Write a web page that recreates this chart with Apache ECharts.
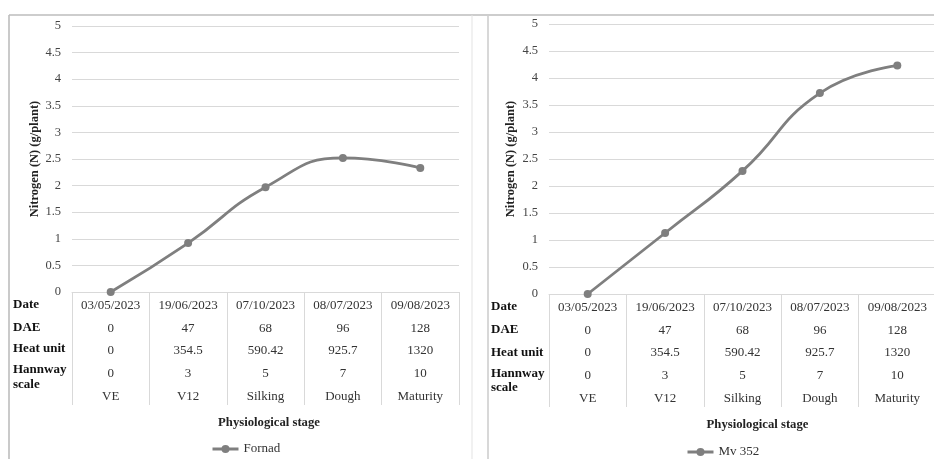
<!DOCTYPE html>
<html>
<head>
<meta charset="utf-8">
<script src="https://cdn.jsdelivr.net/npm/echarts@6/dist/echarts.min.js"></script>
<style>
html,body{margin:0;padding:0;background:#fff;}
#c{width:934px;height:459px;}
</style>
</head>
<body>
<div id="c"></div>
<script>
// ---- data ----
var stages = ['VE', 'V12', 'Silking', 'Dough', 'Maturity'];
var dates = ['03/05/2023', '19/06/2023', '07/10/2023', '08/07/2023', '09/08/2023'];
var dae = ['0', '47', '68', '96', '128'];
var heatUnit = ['0', '354.5', '590.42', '925.7', '1320'];
var hannway = ['0', '3', '5', '7', '10'];
var fornad = [0, 0.92, 1.97, 2.52, 2.33];
var mv352 = [0, 1.13, 2.28, 3.72, 4.23];
var yTicks = [0, 0.5, 1, 1.5, 2, 2.5, 3, 3.5, 4, 4.5, 5];
var rowLabels = ['Date', 'DAE', 'Heat unit', 'Hannway', 'scale'];

var FONT = '"Liberation Serif", "Times New Roman", serif';
var GRID_COL = '#d9d9d9';
var LINE_COL = '#7f7f7f';

var chart = echarts.init(document.getElementById('c'), null, {renderer: 'canvas'});

function xAxisFor(gridIndex, namePadLeft) {
  return {
    type: 'category',
    gridIndex: gridIndex,
    data: stages,
    boundaryGap: true,
    axisLine: {show: true, lineStyle: {color: GRID_COL, width: 1}},
    axisTick: {show: true, length: 113, lineStyle: {color: GRID_COL, width: 1}},
    axisLabel: {
      interval: 0,
      margin: 2,
      fontFamily: FONT,
      fontSize: 13,
      color: '#333',
      lineHeight: 22.75,
      formatter: function (v, i) {
        return [dates[i], dae[i], heatUnit[i], hannway[i], v].join('\n');
      }
    },
    name: 'Physiological stage',
    nameLocation: 'middle',
    nameGap: 124,
    nameMoveOverlap: false,
    nameTextStyle: {fontFamily: FONT, fontSize: 12.7, fontWeight: 'bold', color: '#222', padding: [0, 0, 0, namePadLeft]}
  };
}

function yAxisFor(gridIndex, gap) {
  return {
    type: 'value',
    gridIndex: gridIndex,
    min: 0, max: 5, interval: 0.5,
    axisLine: {show: false},
    axisTick: {show: false},
    splitLine: {show: true, lineStyle: {color: GRID_COL, width: 1}},
    axisLabel: {
      margin: 11,
      fontFamily: FONT, fontSize: 12.5, color: '#444',
      formatter: function (v) { return String(yTicks[Math.round(v / 0.5)]); }
    },
    name: 'Nitrogen (N) (g/plant)',
    nameLocation: 'middle',
    nameGap: gap,
    nameRotate: 90,
    nameMoveOverlap: false,
    nameTextStyle: {fontFamily: FONT, fontSize: 12.5, fontWeight: 'bold', color: '#222'}
  };
}

function seriesFor(name, data, idx) {
  return {
    name: name,
    type: 'line',
    xAxisIndex: idx, yAxisIndex: idx,
    data: data,
    smooth: 0.5,
    symbol: 'circle',
    symbolSize: 8,
    showSymbol: true,
    itemStyle: {color: LINE_COL},
    lineStyle: {color: LINE_COL, width: 2.8},
    emphasis: {disabled: true}
  };
}

function rowLabelGraphics(x, ys) {
  return rowLabels.map(function (t, i) {
    return {
      type: 'text', left: x, top: ys[i] - 8,
      style: {text: t, fontFamily: FONT, fontSize: 13, fontWeight: 'bold', fill: '#111'}
    };
  });
}

var frameColor = '#bdbdbd';
var graphics = [
  {type: 'line', shape: {x1: 9, y1: 15, x2: 934, y2: 15}, style: {stroke: frameColor, lineWidth: 1.6}},
  {type: 'line', shape: {x1: 9, y1: 15, x2: 9, y2: 459}, style: {stroke: frameColor, lineWidth: 1.6}},
  {type: 'line', shape: {x1: 472, y1: 15, x2: 472, y2: 459}, style: {stroke: '#e3e3e3', lineWidth: 1}},
  {type: 'line', shape: {x1: 488, y1: 15, x2: 488, y2: 459}, style: {stroke: '#cfcfcf', lineWidth: 1.6}}
].concat(rowLabelGraphics(13, [305.7, 329, 350, 370.7, 386]))
 .concat(rowLabelGraphics(491, [307.7, 331, 354, 374.7, 388.7]));

var legendText = {fontFamily: FONT, fontSize: 13, color: '#333'};
var option = {
  animation: false,
  backgroundColor: '#ffffff',
  textStyle: {fontFamily: FONT},
  grid: [
    {left: 72, top: 26, width: 387, height: 266, outerBoundsMode: 'none', containLabel: false},
    {left: 549, top: 24, width: 387, height: 270, outerBoundsMode: 'none', containLabel: false}
  ],
  xAxis: [xAxisFor(0, 7), xAxisFor(1, 30)],
  yAxis: [yAxisFor(0, 31), yAxisFor(1, 32)],
  legend: [
    {data: ['Fornad'], left: 206, top: 437.5, itemWidth: 26, itemHeight: 10, itemGap: 0,
     lineStyle: {width: 3}, textStyle: legendText, selectedMode: false},
    {data: ['Mv 352'], left: 681, top: 440.5, itemWidth: 26, itemHeight: 10, itemGap: 0,
     lineStyle: {width: 3}, textStyle: legendText, selectedMode: false}
  ],
  series: [seriesFor('Fornad', fornad, 0), seriesFor('Mv 352', mv352, 1)],
  graphic: graphics
};
chart.setOption(option);
</script>
</body>
</html>
